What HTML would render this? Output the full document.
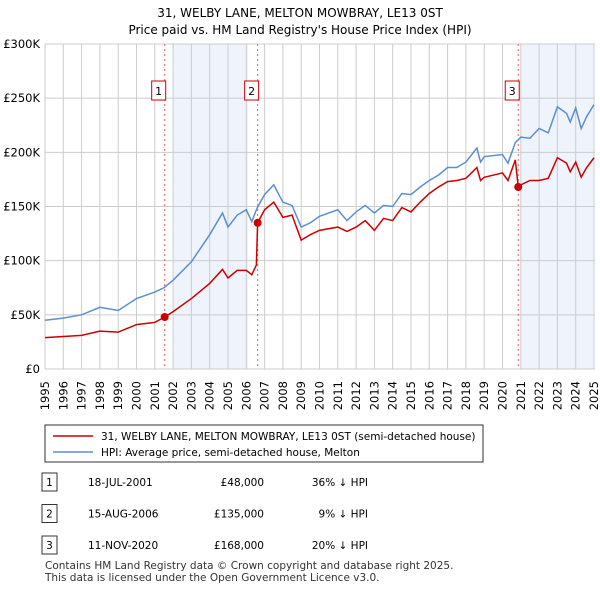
<!DOCTYPE html>
<html><head><meta charset="utf-8"><style>
body{margin:0;background:#fff;font-family:"Liberation Sans","DejaVu Sans",sans-serif;}
svg text{font-family:"DejaVu Sans","Liberation Sans",sans-serif;}
</style></head><body>
<svg id="c" width="600" height="590" xmlns="http://www.w3.org/2000/svg">
<text x="300" y="17" text-anchor="middle" font-size="12">31, WELBY LANE, MELTON MOWBRAY, LE13 0ST</text>
<text x="300" y="34" text-anchor="middle" font-size="12">Price paid vs. HM Land Registry's House Price Index (HPI)</text>
<g id="plot"></g>
<rect x="45" y="425" width="438" height="37" fill="#fff" stroke="#333"/>
<line x1="53" y1="436" x2="93" y2="436" stroke="#cc0000" stroke-width="1.5"/>
<text x="101" y="440" font-size="10.5">31, WELBY LANE, MELTON MOWBRAY, LE13 0ST (semi-detached house)</text>
<line x1="53" y1="452" x2="93" y2="452" stroke="#5b8fd0" stroke-width="1.5"/>
<text x="101" y="456" font-size="10.5">HPI: Average price, semi-detached house, Melton</text>
<g id="tbl" font-size="10.5"></g>
<text x="45" y="569" font-size="10.5" fill="#333">Contains HM Land Registry data © Crown copyright and database right 2025.</text>
<text x="45" y="581" font-size="10.5" fill="#333">This data is licensed under the Open Government Licence v3.0.</text>
</svg>
<script>
const hpiDates=[1995,1996,1997,1998,1999,2000,2001,2001.5,2002,2003,2004,2004.7,2005,2005.5,2006,2006.3,2006.6,2007,2007.5,2008,2008.5,2009,2009.5,2010,2011,2011.5,2012,2012.5,2013,2013.5,2014,2014.5,2015,2015.5,2016,2016.5,2017,2017.5,2018,2018.6,2018.8,2019,2020,2020.3,2020.7,2021,2021.5,2022,2022.5,2023,2023.5,2023.7,2024,2024.3,2024.6,2025];
const hpiValues=[45,47,50,57,54,65,71,75,82,99,124,144,131,142,147,136,149,161,170,154,151,131,135,141,147,137,145,151,144,151,150,162,161,168,174,179,186,186,191,204,191,196,198,190,209,214,213,222,218,242,236,228,241,222,233,244];
const redDates=[1995,1996,1997,1998,1999,2000,2001,2001.54,2002,2003,2004,2004.7,2005,2005.5,2006,2006.3,2006.55,2006.62,2007,2007.5,2008,2008.5,2009,2009.5,2010,2011,2011.5,2012,2012.5,2013,2013.5,2014,2014.5,2015,2015.5,2016,2016.5,2017,2017.5,2018,2018.6,2018.8,2019,2020,2020.3,2020.7,2020.86,2021,2021.5,2022,2022.5,2023,2023.5,2023.7,2024,2024.3,2024.6,2025];
const redValues=[29,30,31,35,34,41,43,48,53,65,79,92,84,91,91,87,96,135,147,154,140,142,119,124,128,131,127,131,137,128,139,137,149,145,154,162,168,173,174,176,186,174,177,181,174,193,168,170,174,174,176,195,190,182,191,177,186,195];
const saleLabels=["1","2","3"];
const saleDates=[2001.54,2006.62,2020.86];
const saleValues=[48,135,168];
const saleDateText=["18-JUL-2001","15-AUG-2006","11-NOV-2020"];
const salePriceText=["£48,000","£135,000","£168,000"];
const saleHpiText=["36% ↓ HPI","9% ↓ HPI","20% ↓ HPI"];
const yTicks=[0,50,100,150,200,250,300];
const yTickLabels=["£0","£50K","£100K","£150K","£200K","£250K","£300K"];
const xTicks=[1995,1996,1997,1998,1999,2000,2001,2002,2003,2004,2005,2006,2007,2008,2009,2010,2011,2012,2013,2014,2015,2016,2017,2018,2019,2020,2021,2022,2023,2024,2025];
const bands=[[2002,2006.1],[2021,2025]];

const NS="http://www.w3.org/2000/svg";
const X=y=>45+(y-1995)*(549/30);
const Y=v=>369-v*(325/300);
const plot=document.getElementById('plot');
function mk(tag,attrs,parent){const e=document.createElementNS(NS,tag);for(const k in attrs)e.setAttribute(k,attrs[k]);(parent||plot).appendChild(e);return e;}
bands.forEach(b=>{const e=mk('rect',{x:X(b[0]),y:44,width:X(b[1])-X(b[0]),height:325,fill:'#eef3fc'});

});
xTicks.forEach(t=>{const e=mk('line',{x1:X(t),x2:X(t),y1:44,y2:369,stroke:'#ccc'});


const lx=X(t)+4,ly=381;
const l=mk('text',{x:lx,y:ly,'text-anchor':'end','font-size':11.5,transform:'rotate(-90 '+lx+' '+ly+')'});l.textContent=t;

});
yTicks.forEach((t,i)=>{const e=mk('line',{x1:45,x2:595,y1:Y(t),y2:Y(t),stroke:'#ccc'});


const l=mk('text',{x:40,y:Y(t)+4,'text-anchor':'end','font-size':11.5});l.textContent=yTickLabels[i];

});
saleDates.forEach((d,i)=>{const e=mk('line',{x1:X(d),x2:X(d),y1:44,y2:369,stroke:'#e06060','stroke-dasharray':'2,3'});


const bx=mk('rect',{x:X(d)-13,y:81,width:14,height:19,fill:'#fff',stroke:'#cc0000'});


const t=mk('text',{x:X(d)-6,y:95,'text-anchor':'middle','font-size':11});t.textContent=saleLabels[i];

});
const hp=mk('polyline',{points:hpiDates.map((d,i)=>X(d)+','+Y(hpiValues[i])).join(' '),fill:'none',stroke:'#5b8fd0','stroke-width':1.5});


const rp=mk('polyline',{points:redDates.map((d,i)=>X(d)+','+Y(redValues[i])).join(' '),fill:'none',stroke:'#cc0000','stroke-width':1.5});


saleDates.forEach((d,i)=>{const c=mk('circle',{cx:X(d),cy:Y(saleValues[i]),r:4,fill:'#cc0000'});

});
const tbl=document.getElementById('tbl');
saleLabels.forEach((s,i)=>{const y=482+i*31.5;
const b=mk('rect',{x:42,y:y-9,width:15,height:18,fill:'#fff',stroke:'#333'},tbl);


const t0=mk('text',{x:49.5,y:y+4,'text-anchor':'middle'},tbl);t0.textContent=s;


const t1=mk('text',{x:88,y:y+4},tbl);t1.textContent=saleDateText[i];


const t2=mk('text',{x:264,y:y+4,'text-anchor':'end'},tbl);t2.textContent=salePriceText[i];


const t3=mk('text',{x:368,y:y+4,'text-anchor':'end'},tbl);t3.textContent=saleHpiText[i];

});
</script>
</body></html>
